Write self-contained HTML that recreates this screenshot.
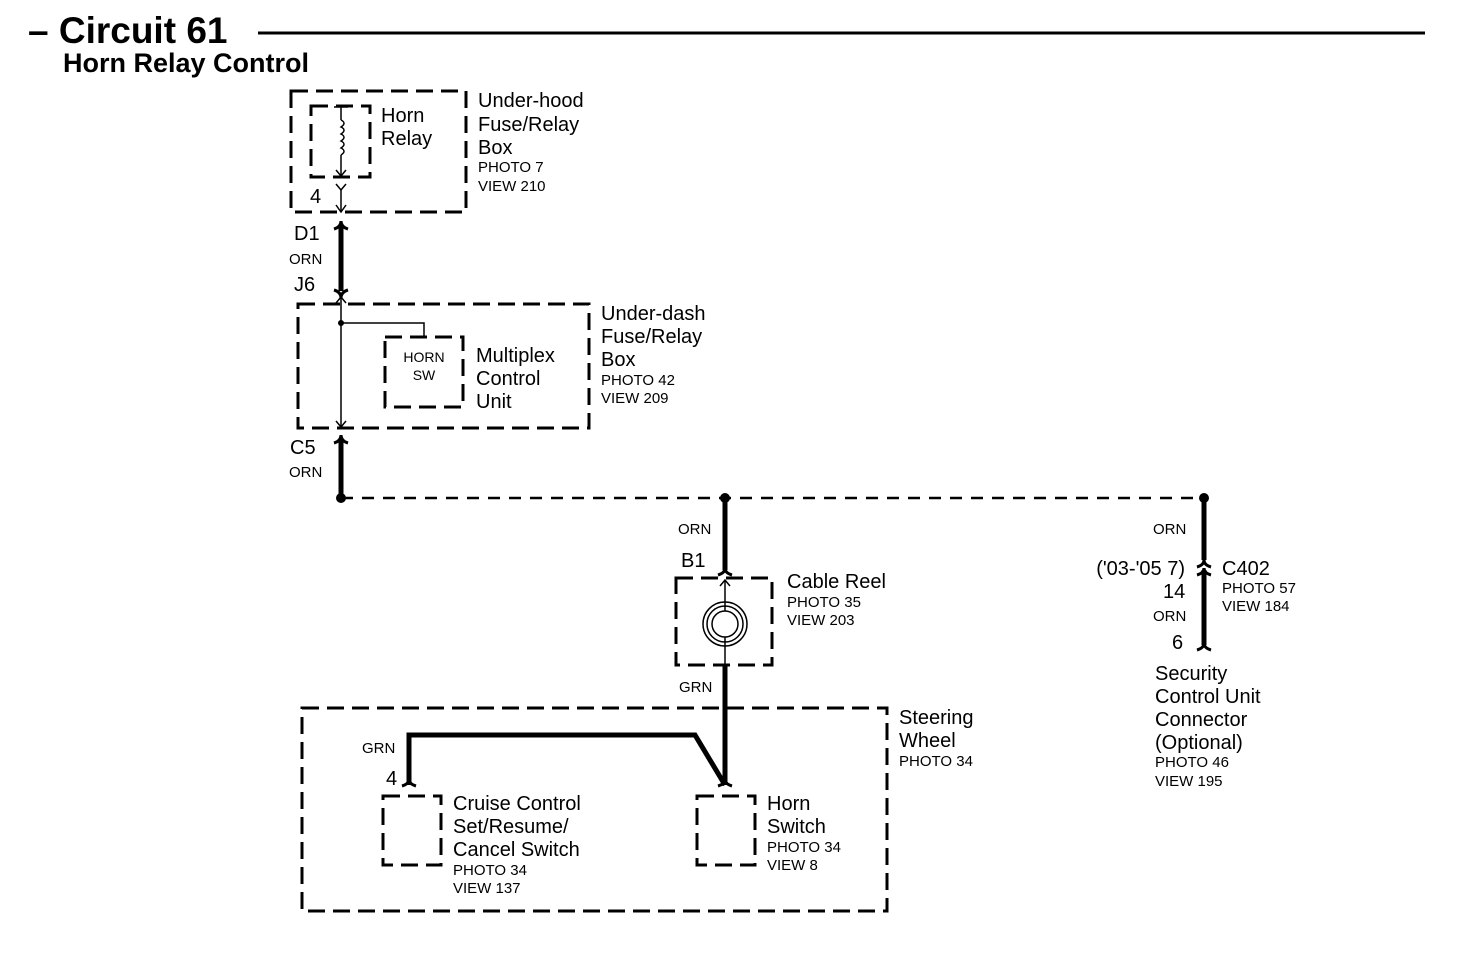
<!DOCTYPE html>
<html><head><style>body{margin:0;background:#fff}svg{display:block}text{font-family:"Liberation Sans",sans-serif;fill:#000}</style></head><body>
<svg width="1472" height="970" viewBox="0 0 1472 970" xmlns="http://www.w3.org/2000/svg">
<g font-size="20">
<text x="28" y="43" font-size="37" font-weight="bold">– Circuit 61</text>
<line x1="258" y1="33" x2="1425" y2="33" stroke="#000" stroke-width="3"/>
<text x="63" y="72" font-size="27" font-weight="bold">Horn Relay Control</text>
</g>
<g fill="none" stroke="#000" stroke-width="3" stroke-dasharray="17,8">
<rect x="291" y="91" width="175" height="121"/>
<rect x="311" y="106" width="59" height="71"/>
<rect x="298" y="304" width="291" height="124"/>
<rect x="385" y="337" width="78" height="70"/>
<rect x="676" y="578" width="96" height="87"/>
<rect x="302" y="708" width="585" height="203"/>
<rect x="383" y="796" width="58" height="69"/>
<rect x="697" y="796" width="58" height="69"/>
<line x1="341" y1="498" x2="1204" y2="498" stroke-width="2.5" stroke-dasharray="12,9"/>
</g>
<g fill="none" stroke="#000" stroke-width="1.5">
<line x1="334" y1="107" x2="348" y2="107"/><line x1="341" y1="107" x2="341" y2="120"/>
<path d="M341 120 q6 3 0 7 q6 3 0 7 q6 3 0 7 q6 3 0 7 q6 3 0 7"/>
<line x1="341" y1="155" x2="341" y2="176"/><path d="M336 170 l5 6 l5 -6"/>
<path d="M336 184 l5 6 l5 -6"/><line x1="341" y1="190" x2="341" y2="212"/><path d="M336 205 l5 7 l5 -7"/>
<line x1="341" y1="298" x2="341" y2="427"/><path d="M336 303 l5 -6 l5 6"/><path d="M336 421 l5 6 l5 -6"/>
<polyline points="341,323 424,323 424,337"/>
<line x1="725" y1="580" x2="725" y2="611"/><path d="M720 586 l5 -6 l5 6"/>
<line x1="725" y1="637" x2="725" y2="665"/>
<circle cx="725" cy="624" r="22"/><circle cx="725" cy="624" r="18"/><circle cx="725" cy="624" r="13"/>
</g>
<g fill="none" stroke="#000" stroke-width="5">
<line x1="341" y1="224" x2="341" y2="291"/>
<line x1="341" y1="440" x2="341" y2="498"/>
<line x1="725" y1="498" x2="725" y2="570"/>
<line x1="725" y1="665" x2="725" y2="785"/>
<polyline points="409,785 409,735 695,735 725,785" stroke-linejoin="miter"/>
<line x1="1204" y1="498" x2="1204" y2="560"/>
<line x1="1204" y1="570" x2="1204" y2="645"/>
</g>
<g fill="none" stroke="#000" stroke-width="3">
<path d="M334 229 q7 -2 7 -8 q0 6 7 8"/><path d="M334 290 q7 2 7 8 q0 -6 7 -8"/>
<path d="M334 443 q7 -2 7 -8 q0 6 7 8"/>
<path d="M718 575 q7 -2 7 -7 q0 5 7 7"/>
<path d="M402 786 q7 -2 7 -7 q0 5 7 7"/><path d="M718 786 q7 -2 7 -7 q0 5 7 7"/>
<path d="M1197 567 q7 -2 7 -7 q0 5 7 7"/><path d="M1197 575 q7 -2 7 -7 q0 5 7 7"/>
<path d="M1197 650 q7 -2 7 -7 q0 5 7 7"/>
</g>
<g fill="#000"><circle cx="341" cy="498" r="5"/><circle cx="725" cy="498" r="5"/><circle cx="1204" cy="498" r="5"/><circle cx="341" cy="323" r="3"/></g>
<g font-size="20">
<text x="381" y="122">Horn</text><text x="381" y="145">Relay</text>
<text x="478" y="107">Under-hood</text><text x="478" y="131">Fuse/Relay</text><text x="478" y="154">Box</text>
<text x="310" y="203">4</text>
<text x="294" y="240">D1</text><text x="294" y="291">J6</text>
<text x="476" y="362">Multiplex</text><text x="476" y="385">Control</text><text x="476" y="408">Unit</text>
<text x="601" y="320">Under-dash</text><text x="601" y="343">Fuse/Relay</text><text x="601" y="366">Box</text>
<text x="290" y="454">C5</text>
<text x="681" y="567">B1</text>
<text x="787" y="588">Cable Reel</text>
<text x="899" y="724">Steering</text><text x="899" y="747">Wheel</text>
<text x="386" y="785">4</text>
<text x="453" y="810">Cruise Control</text><text x="453" y="833">Set/Resume/</text><text x="453" y="856">Cancel Switch</text>
<text x="767" y="810">Horn</text><text x="767" y="833">Switch</text>
<text x="1185" y="575" text-anchor="end">('03-'05 7)</text><text x="1222" y="575">C402</text>
<text x="1163" y="598">14</text><text x="1172" y="649">6</text>
<text x="1155" y="680">Security</text><text x="1155" y="703">Control Unit</text><text x="1155" y="726">Connector</text><text x="1155" y="749">(Optional)</text>
</g>
<g font-size="15">
<text x="478" y="172">PHOTO 7</text><text x="478" y="191">VIEW 210</text>
<text x="289" y="264">ORN</text><text x="289" y="477">ORN</text>
<text x="424" y="362" text-anchor="middle" font-size="14">HORN</text><text x="424" y="380" text-anchor="middle" font-size="14">SW</text>
<text x="601" y="385">PHOTO 42</text><text x="601" y="403">VIEW 209</text>
<text x="678" y="534">ORN</text>
<text x="787" y="607">PHOTO 35</text><text x="787" y="625">VIEW 203</text>
<text x="679" y="692">GRN</text><text x="362" y="753">GRN</text>
<text x="899" y="766">PHOTO 34</text>
<text x="453" y="875">PHOTO 34</text><text x="453" y="893">VIEW 137</text>
<text x="767" y="852">PHOTO 34</text><text x="767" y="870">VIEW 8</text>
<text x="1153" y="534">ORN</text><text x="1153" y="621">ORN</text>
<text x="1222" y="593">PHOTO 57</text><text x="1222" y="611">VIEW 184</text>
<text x="1155" y="767">PHOTO 46</text><text x="1155" y="786">VIEW 195</text>
</g>
</svg>
</body></html>
